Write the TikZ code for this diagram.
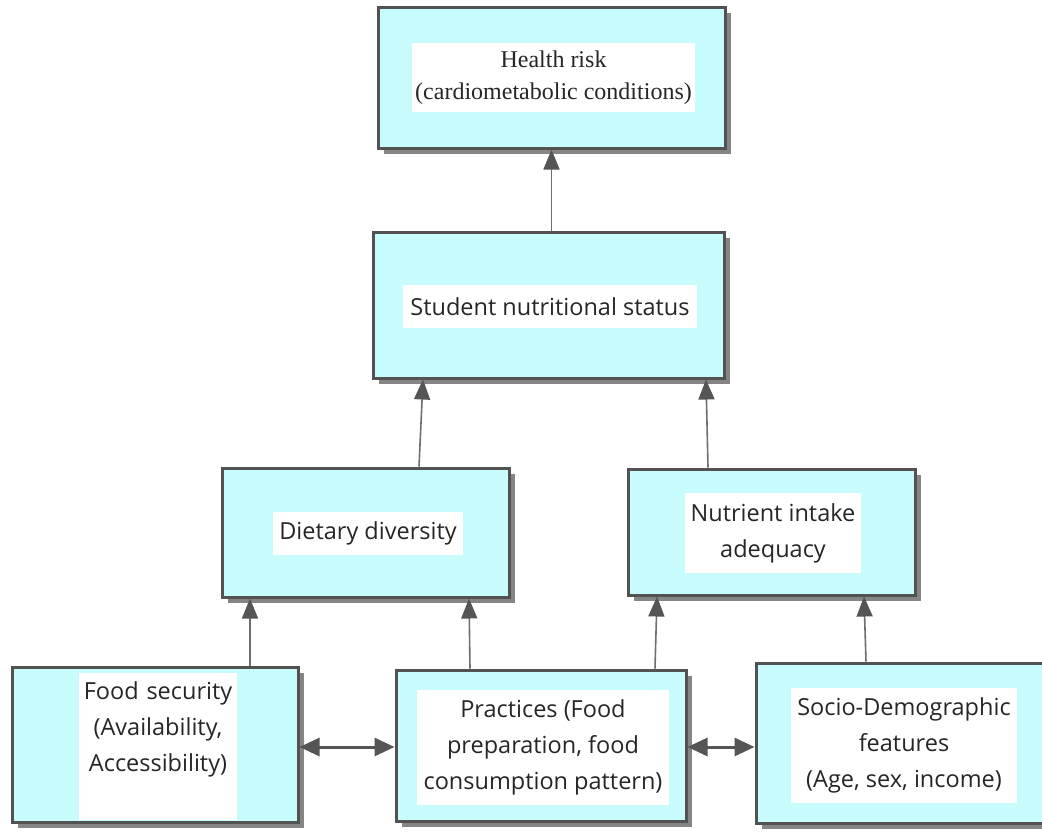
\documentclass[tikz,border=0pt]{standalone}
\usepackage{fontspec}
\setmainfont{Open Sans}
\newfontfamily\serifface{Liberation Serif}
\usepackage{xcolor}
\usepackage{tikz}
\usetikzlibrary{arrows.meta,shadows}
\definecolor{boxfill}{HTML}{C8FCFC}
\definecolor{edge}{HTML}{525252}
\definecolor{shade}{HTML}{858585}
\definecolor{wire}{HTML}{6E6E6E}
\definecolor{tip}{HTML}{555555}
\tikzset{
  box/.style={draw=edge, line width=3pt, fill=boxfill, inner sep=0pt,
    drop shadow={shadow xshift=6pt, shadow yshift=-6pt, fill=shade, opacity=1}},
  lbl/.style={fill=white, inner sep=0pt, align=center, text=black!85,
    font=\fontsize{23.5}{36}\selectfont},
  slbl/.style={lbl, font=\serifface\fontsize{24}{32}\selectfont},
  uparrow/.style={draw=wire, line width=1.6pt,
    -{Triangle[length=20pt,width=16pt,color=tip]}},
  dblarrow/.style={draw=tip, line width=3pt,
    {Triangle[length=20pt,width=18pt]}-{Triangle[length=20pt,width=18pt]}}
}
\begin{document}
\begin{tikzpicture}[x=1pt,y=-1pt]
  \useasboundingbox (0,0) rectangle (1042,831);
  \clip (0,0) rectangle (1042,831);

  % boxes
  \node[box, minimum width=347pt, minimum height=141pt] (health) at (551.5,77.5) {};
  \node[box, minimum width=351pt, minimum height=146pt] (status) at (548.5,305) {};
  \node[box, minimum width=287pt, minimum height=129pt] (diversity) at (365.5,532.5) {};
  \node[box, minimum width=287pt, minimum height=126pt] (intake) at (771.5,532) {};
  \node[box, minimum width=286pt, minimum height=155pt] (security) at (155,744.5) {};
  \node[box, minimum width=290pt, minimum height=151pt] (practices) at (541,745.5) {};
  \node[box, minimum width=287pt, minimum height=160pt] (socio) at (899.5,743) {};

  % texts
  \node[slbl, minimum width=283pt, minimum height=69pt] (healthtxt) at (553.5,77.5)
    {Health risk\\(cardiometabolic conditions)};
  \node[lbl, minimum width=294pt, minimum height=43pt] (statustxt) at (550,306.5)
    {Student nutritional status};
  \node[lbl, minimum width=190pt, minimum height=43pt] (diversitytxt) at (368,533.5)
    {Dietary diversity};
  \node[lbl, minimum width=176pt, minimum height=80pt] (intaketxt) at (773,533)
    {Nutrient intake\\adequacy};
  \node[lbl, text width=158pt, text height=26pt, text depth=121pt, anchor=north]
    (securitytxt) at (158,673) {Food security\\(Availability,\\Accessibility)};
  \node[lbl, minimum width=252pt, minimum height=115pt] (practicestxt) at (543,747.5)
    {Practices (Food\\preparation, food\\consumption pattern)};
  \node[lbl, minimum width=226pt, minimum height=115pt] (sociotxt) at (904,745.5)
    {Socio-Demographic\\features\\(Age, sex, income)};

  % upward links
  \draw[uparrow] (health.south |- status.north) -- (health.south);
  \draw[uparrow] ([xshift=53.5pt]diversity.north) -- ([xshift=-125.5pt]status.south);
  \draw[uparrow] ([xshift=-63.5pt]intake.north) -- ([xshift=157.5pt]status.south);
  \draw[uparrow] ([xshift=95pt]security.north) -- ([xshift=-115.5pt]diversity.south);
  \draw[uparrow] ([xshift=-71pt]practices.north) -- ([xshift=103.5pt]diversity.south);
  \draw[uparrow] ([xshift=114pt]practices.north) -- ([xshift=-114.5pt]intake.south);
  \draw[uparrow] ([xshift=-33.5pt]socio.north) -- ([xshift=92.5pt]intake.south);

  % two-way links
  \coordinate (mid) at (0,747);
  \draw[dblarrow] (security.east |- mid) -- (practices.west |- mid);
  \draw[dblarrow] (practices.east |- mid) -- (socio.west |- mid);
\end{tikzpicture}
\end{document}
